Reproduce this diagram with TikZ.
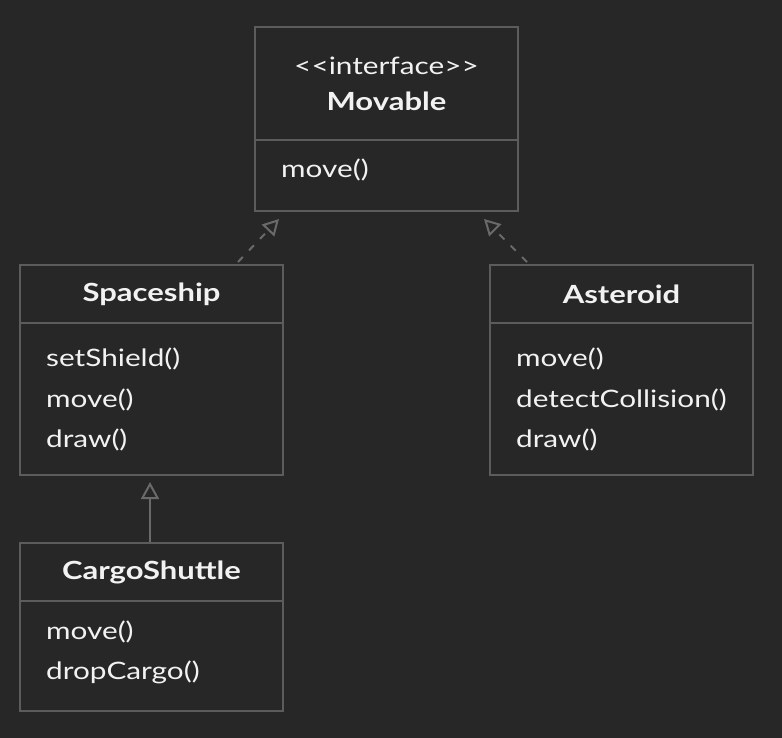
\documentclass[tikz,border=0pt]{standalone}
\usepackage{fontspec}
\setmainfont{Lato}[FakeStretch=1.24]
\usetikzlibrary{arrows.meta}
\definecolor{bg}{HTML}{272727}
\definecolor{edge}{HTML}{5C5C5C}
\definecolor{arr}{HTML}{6A6A6A}
\definecolor{txt}{HTML}{F2F2F2}
\begin{document}
\begin{tikzpicture}[x=1pt,y=-1pt,
  box/.style={draw=edge, line width=1.6pt, inner sep=0pt},
  divider/.style={draw=edge, line width=1.6pt},
  title/.style={text=txt, font=\fontsize{25}{29}\selectfont\bfseries, inner sep=0pt},
  stereo/.style={text=txt, font=\fontsize{24}{28}\selectfont, inner sep=0pt},
  item/.style={text=txt, font=\fontsize{24}{28}\selectfont, inner sep=0pt, anchor=west},
  realize/.style={draw=arr, line width=2pt, dash pattern=on 7pt off 9pt, -{Triangle[open, length=16pt, width=17pt, line width=2pt]}},
  inherit/.style={draw=arr, line width=2pt, -{Triangle[open, length=17pt, width=18pt, line width=2pt]}}]
\fill[bg] (0,0) rectangle (782,738);
\useasboundingbox (0,0) rectangle (782,738);
% Movable
\node[box, minimum width=263pt, minimum height=184pt] (movable) at (386.5,119) {};
\draw[divider] (255,140) -- (518,140);
\node[stereo] (mst) at (386.5,66) {<\kern0pt<interface>\kern0pt>};
\node[title] (mtitle) at (386.5,101) {Movable};
\node[item] (mm1) at (281,170) {move()};
% Spaceship
\node[box, minimum width=263pt, minimum height=210pt] (ship) at (151.5,370) {};
\draw[divider] (20,323) -- (283,323);
\node[title] (stitle) at (151.5,294) {Spaceship};
\node[item] (s1) at (46,359) {setShield()};
\node[item] (s2) at (46,400) {move()};
\node[item] (s3) at (46,440) {draw()};
% Asteroid
\node[box, minimum width=263pt, minimum height=210pt] (ast) at (621.5,370) {};
\draw[divider] (490,323) -- (753,323);
\node[title] (atitle) at (621.5,294) {Asteroid};
\node[item] (a1) at (516,359) {move()};
\node[item] (a2) at (516,400) {detectCollision()};
\node[item] (a3) at (516,440) {draw()};
% CargoShuttle
\node[box, minimum width=263pt, minimum height=168pt] (cargo) at (151.5,627) {};
\draw[divider] (20,601) -- (283,601);
\node[title] (ctitle) at (151.5,572) {CargoShuttle};
\node[item] (c1) at (46,632) {move()};
\node[item] (c2) at (46,672) {dropCargo()};
% connectors
\coordinate (sfrom) at (238,262);
\coordinate (sto) at (279,219);
\coordinate (afrom) at (527,262);
\coordinate (ato) at (484,219);
\coordinate (cto) at (150,482);
\draw[realize] (sfrom) -- (sto);
\draw[realize] (afrom) -- (ato);
\draw[inherit] (cargo.north -| cto) -- (cto);
\end{tikzpicture}
\end{document}
